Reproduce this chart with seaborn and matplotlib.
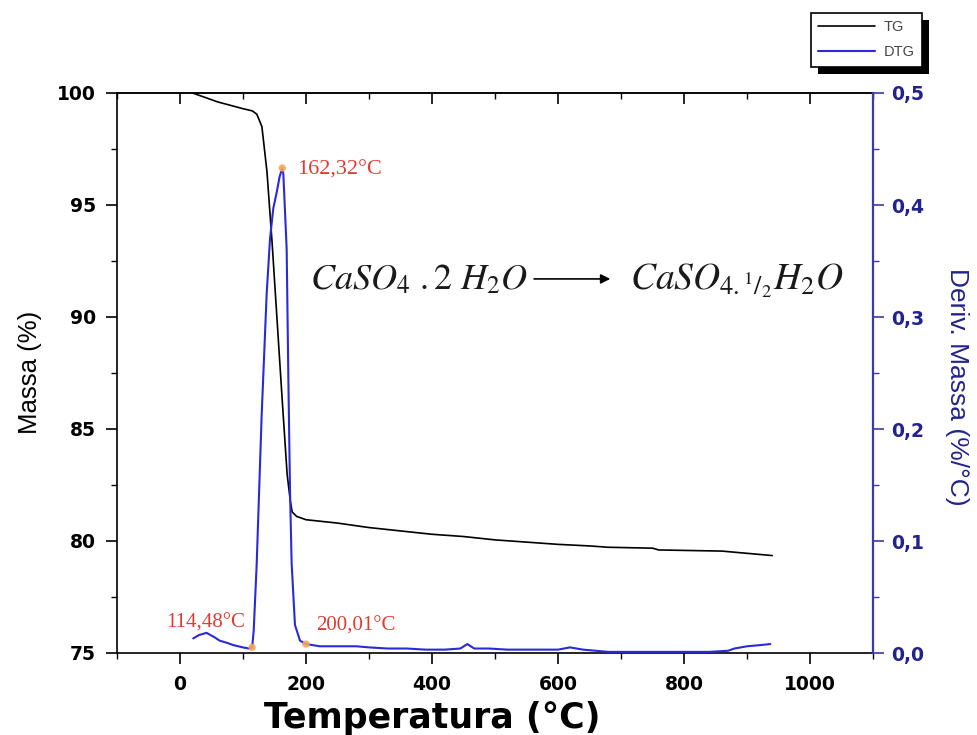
import matplotlib
matplotlib.use('Agg')
import matplotlib.pyplot as plt
import seaborn as sns
from matplotlib.ticker import MultipleLocator, FuncFormatter
from matplotlib.lines import Line2D
from matplotlib.patches import Rectangle

# ---------------- data ----------------
tg_temp = [20, 40, 60, 80, 100, 115, 122, 130, 138, 146, 154, 162, 170, 175, 178,
           185, 200, 250, 300, 350, 400, 450, 500, 550, 600, 650, 680, 750, 760,
           860, 900, 940]
tg_mass = [100.0, 99.8, 99.6, 99.45, 99.3, 99.2, 99.05, 98.5, 96.5, 93.4, 89.9,
           86.4, 83.0, 81.8, 81.3, 81.1, 80.95, 80.8, 80.6, 80.45, 80.3, 80.2,
           80.05, 79.95, 79.85, 79.78, 79.72, 79.68, 79.6, 79.55, 79.45, 79.35]

dtg_temp = [21, 30, 42, 55, 63, 75, 85, 100, 110, 114.5, 117, 121.7, 129.6, 137.6,
            142.9, 148.1, 153.4, 158, 162.3, 164, 169.3, 172, 174.6, 177.2, 182.5,
            190.5, 200, 222, 250, 280, 300, 330, 360, 390, 420, 445, 456, 467, 490,
            520, 560, 600, 619, 640, 680, 720, 760, 800, 840, 870, 880, 900, 920, 937]
dtg_val = [0.013, 0.016, 0.018, 0.014, 0.011, 0.009, 0.007, 0.005, 0.004, 0.005,
           0.02, 0.079, 0.212, 0.321, 0.370, 0.397, 0.411, 0.425, 0.433, 0.428,
           0.361, 0.245, 0.146, 0.080, 0.025, 0.011, 0.008, 0.006, 0.006, 0.006,
           0.005, 0.004, 0.004, 0.003, 0.003, 0.004, 0.008, 0.004, 0.004, 0.003,
           0.003, 0.003, 0.005, 0.003, 0.001, 0.001, 0.001, 0.001, 0.001, 0.002,
           0.004, 0.006, 0.007, 0.008]

mark_temp = [114.48, 162.32, 200.01]
mark_val = [0.005, 0.433, 0.008]
mark_labels = ['114,48°C', '162,32°C', '200,01°C']

series_labels = ['TG', 'DTG']

# ---------------- style ----------------
sns.set_style('white')
plt.rcParams['font.family'] = ['DejaVu Sans']
plt.rcParams['mathtext.fontset'] = 'stix'
plt.rcParams['text.color'] = 'black'
plt.rcParams['axes.labelcolor'] = 'black'
plt.rcParams['xtick.color'] = 'black'
plt.rcParams['ytick.color'] = 'black'

BLUE_LINE = '#2a2ad8'
BLUE_AXIS = '#3a3aa6'
BLUE_TEXT = '#22228e'
RED = '#e23a32'
ORANGE = '#f5a55a'

fig = plt.figure(figsize=(9.77, 7.35), dpi=100)
ax = fig.add_axes([117 / 977, 1 - 653 / 735, 756 / 977, 560 / 735])
ax2 = ax.twinx()

sns.lineplot(x=tg_temp, y=tg_mass, ax=ax, color='black', lw=1.2, legend=False)
sns.lineplot(x=dtg_temp, y=dtg_val, ax=ax2, color=BLUE_LINE, lw=1.5, legend=False)
sns.scatterplot(x=mark_temp, y=mark_val, ax=ax2, color=ORANGE, s=28,
                edgecolor='none', alpha=0.9, zorder=5, legend=False)

ax.set_xlim(-100, 1100)
ax.set_ylim(75, 100)
ax2.set_ylim(0, 0.5)

ax.xaxis.set_major_locator(MultipleLocator(200))
ax.xaxis.set_minor_locator(MultipleLocator(100))
ax.yaxis.set_major_locator(MultipleLocator(5))
ax.yaxis.set_minor_locator(MultipleLocator(2.5))
ax2.yaxis.set_major_locator(MultipleLocator(0.1))
ax2.yaxis.set_minor_locator(MultipleLocator(0.05))
ax2.yaxis.set_major_formatter(FuncFormatter(lambda v, p: f'{v:.1f}'.replace('.', ',')))

for s in ['left', 'bottom', 'top']:
    ax.spines[s].set_color('black')
    ax.spines[s].set_linewidth(1.2)
ax.spines['right'].set_visible(False)
for s in ['left', 'bottom', 'top']:
    ax2.spines[s].set_visible(False)
ax2.spines['right'].set_color(BLUE_AXIS)
ax2.spines['right'].set_linewidth(1.6)

ax.tick_params(axis='x', which='both', bottom=True, top=False, direction='out',
               colors='black', labelcolor='black', pad=8)
ax.tick_params(axis='x', which='major', length=8, width=1.2)
ax.tick_params(axis='x', which='minor', length=4, width=1.0)
ax.tick_params(axis='y', which='both', left=True, right=False, direction='out',
               colors='black', labelcolor='black', pad=7)
ax.tick_params(axis='y', which='major', length=8, width=1.2)
ax.tick_params(axis='y', which='minor', length=4, width=1.0)
ax2.tick_params(axis='y', which='both', right=True, left=False, direction='out',
                colors=BLUE_AXIS, labelcolor=BLUE_TEXT, pad=5)
ax2.tick_params(axis='y', which='major', length=8, width=1.2)
ax2.tick_params(axis='y', which='minor', length=4, width=1.0)
for lab in ax.get_xticklabels() + ax.get_yticklabels() + ax2.get_yticklabels():
    lab.set_fontsize(13.5)
    lab.set_fontweight('bold')

# top inward ticks
top = ax.secondary_xaxis('top')
top.xaxis.set_major_locator(MultipleLocator(200))
top.xaxis.set_minor_locator(MultipleLocator(100))
top.tick_params(axis='x', which='both', direction='in', labeltop=False, colors='black')
top.tick_params(axis='x', which='major', length=8, width=1.2)
top.tick_params(axis='x', which='minor', length=4, width=1.0)
top.spines['top'].set_linewidth(1.2)

# axis labels
ax.set_xlabel('Temperatura (°C)', fontsize=25, fontweight='bold', va='center',
              color='black')
ax.xaxis.set_label_coords((432 - 117) / 756, (653 - 718) / 560)
ax.set_ylabel('Massa (%)', fontsize=18.5, family='Liberation Sans', va='center',
              color='black')
ax.yaxis.set_label_coords((30 - 117) / 756, (653 - 372) / 560)
ax2.set_ylabel('Deriv. Massa (%/°C)', fontsize=19, family='Liberation Sans',
               color=BLUE_TEXT, rotation=270, va='center')
ax2.yaxis.set_label_coords((957 - 117) / 756, (653 - 387) / 560)

# peak annotations
for t, v, lab in zip(mark_temp, mark_val, mark_labels):
    if lab.startswith('114'):
        ax2.text(t - 11, v + 0.022, lab, color=RED, fontsize=15,
                 family='Liberation Serif', ha='right', va='center')
    elif lab.startswith('162'):
        ax2.text(t + 24, v - 0.002, lab, color=RED, fontsize=16,
                 family='Liberation Serif', ha='left', va='center')
    else:
        ax2.text(t + 16, v + 0.016, lab, color=RED, fontsize=15,
                 family='Liberation Serif', ha='left', va='center')

# reaction equation
ax.text(206, 91.25, r'$CaSO_4\ .2\ H_2O$', fontsize=26, color='#1a1a1a', va='baseline')
ax.annotate('', xy=(683, 91.7), xytext=(562, 91.7),
            arrowprops=dict(arrowstyle='-|>', color='black', lw=1.2, mutation_scale=14,
                            shrinkA=0, shrinkB=0))
ax.text(714, 91.25, r'$CaSO_{4.{}^{1}/_{2}}H_2O$', fontsize=27, color='#1a1a1a',
        va='baseline')

# legend
handles = [Line2D([], [], color='black', lw=1.2), Line2D([], [], color=BLUE_LINE, lw=1.5)]
leg = fig.legend(handles, series_labels, loc='upper right',
                 bbox_to_anchor=(922 / 977, 1 - 13 / 735), bbox_transform=fig.transFigure,
                 frameon=True, fancybox=False, edgecolor='black', framealpha=1,
                 borderaxespad=0, prop={'family': 'Liberation Sans', 'size': 10.5},
                 handlelength=3.9, handletextpad=0.6, borderpad=0.5, labelspacing=0.75,
                 labelcolor='#444444')
leg.get_frame().set_linewidth(1.2)

fig.canvas.draw()
bb = leg.get_window_extent()
inv = fig.transFigure.inverted()
(x0, y0), (x1, y1) = inv.transform([(bb.x0 + 7, bb.y0 - 7), (bb.x1 + 7, bb.y1 - 7)])
shadow = Rectangle((x0, y0), x1 - x0, y1 - y0, transform=fig.transFigure,
                   facecolor='black', edgecolor='none', zorder=leg.get_zorder() - 0.5)
fig.add_artist(shadow)

fig.savefig('out.png', dpi=100, facecolor='white')
